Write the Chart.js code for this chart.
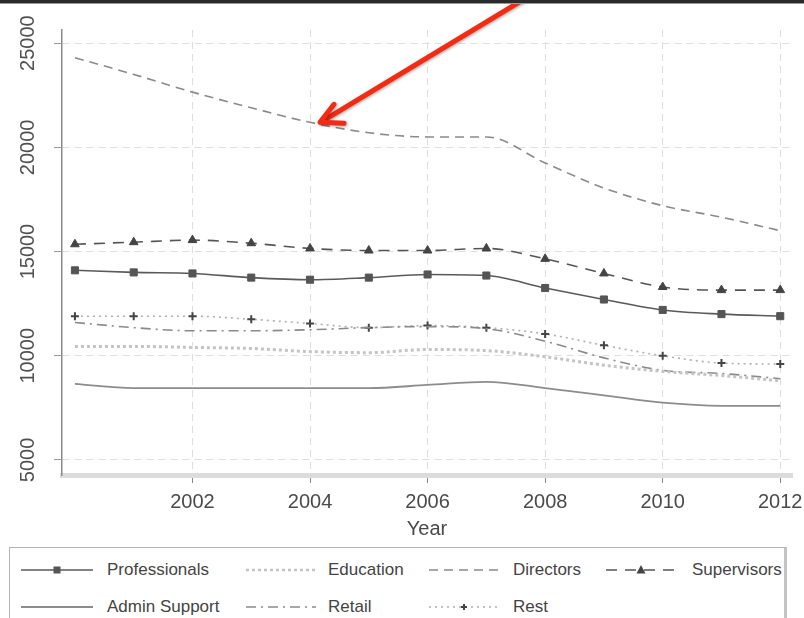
<!DOCTYPE html>
<html>
<head>
<meta charset="utf-8">
<script src="https://cdn.jsdelivr.net/npm/chart.js@4"></script>
<style>
  body { margin: 0; background: #fff; width: 804px; height: 618px; overflow: hidden; position: relative; }
  #topbar { position: absolute; left: 0; top: 0; width: 804px; height: 3px; background: #2a2a2a; border-bottom: 1px solid #9a9a9a; z-index: 3; }
  #wrap { position: absolute; left: 0; top: 0; width: 804px; height: 540px; }
  #legend { position: absolute; left: 9px; top: 547px; width: 778px; height: 72px; border: 1.5px solid #b4b4b4; border-right: 3px solid #c4c4c4; box-sizing: border-box; }
  .item { position: absolute; height: 20px; }
  .item svg { position: absolute; left: 0; top: 0; }
  .item span { position: absolute; top: 0px; font-family: "Liberation Sans", Arial, sans-serif; font-size: 17px; color: #444; white-space: nowrap; }
</style>
</head>
<body>
<div id="topbar"></div>
<div id="wrap"><canvas id="mychart"></canvas></div>
<div id="legend"></div>
<script>
// Dữ liệu
const years = [2000, 2001, 2002, 2003, 2004, 2005, 2006, 2007, 2008, 2009, 2010, 2011, 2012];
const xTicks = [2002, 2004, 2006, 2008, 2010, 2012];
const yTicks = [5000, 10000, 15000, 20000, 25000];

const professionals = [14100, 14000, 13950, 13750, 13650, 13750, 13900, 13850, 13250, 12700, 12200, 12000, 11900];
const education = [10450, 10450, 10400, 10350, 10200, 10150, 10300, 10250, 9950, 9550, 9250, 9050, 8800];
const directors = [24300, 23500, 22650, 21900, 21200, 20700, 20500, 20500, 19250, 18050, 17200, 16650, 16000];
const supervisors = [15350, 15450, 15550, 15400, 15150, 15050, 15050, 15150, 14650, 13950, 13300, 13150, 13150];
const adminSupport = [8650, 8450, 8450, 8450, 8450, 8450, 8600, 8750, 8450, 8100, 7750, 7600, 7600];
const retail = [11600, 11350, 11200, 11200, 11250, 11350, 11400, 11300, 10700, 9900, 9300, 9150, 8900];
const rest = [11900, 11900, 11900, 11750, 11550, 11350, 11450, 11350, 11050, 10500, 10000, 9650, 9600];

const FONT = "'Liberation Sans', Arial, sans-serif";

function pts(arr) {
  return arr.map((v, i) => ({ x: years[i], y: v }));
}

const series = [
  { label: "Professionals", data: professionals, color: "#5a5a5a", dash: [], width: 1.6, point: "rect", radius: 5, pcolor: "#555" },
  { label: "Education", data: education, color: "#c4c4c4", dash: [3, 3], width: 3, point: false },
  { label: "Directors", data: directors, color: "#8a8a8a", dash: [9, 6], width: 1.6, point: false },
  { label: "Supervisors", data: supervisors, color: "#555", dash: [11, 8], width: 1.6, point: "triangle", radius: 5, pcolor: "#444" },
  { label: "Admin Support", data: adminSupport, color: "#8c8c8c", dash: [], width: 1.8, point: false },
  { label: "Retail", data: retail, color: "#8a8a8a", dash: [10, 5, 2, 5], width: 1.6, point: false },
  { label: "Rest", data: rest, color: "#b0b0b0", dash: [2, 4], width: 1.6, point: "cross", radius: 4, pcolor: "#444" },
];

// Nhãn trục Y xoay 90 độ
const yLabelPlugin = {
  id: "yLabels",
  afterDraw(chart) {
    const c = chart.ctx;
    const ys = chart.scales.y;
    c.save();
    c.fillStyle = "#505050";
    c.font = "20px " + FONT;
    c.textAlign = "center";
    c.textBaseline = "middle";
    yTicks.forEach((t) => {
      const py = ys.getPixelForValue(t);
      c.save();
      c.translate(27, py);
      c.rotate(-Math.PI / 2);
      c.fillText(String(t), 0, 1);
      c.restore();
    });
    c.restore();
  },
};

// Mũi tên đỏ chỉ vào Directors năm 2004
const arrowPlugin = {
  id: "arrow",
  afterDraw(chart) {
    const c = chart.ctx;
    const tx = chart.scales.x.getPixelForValue(2004) + 10;
    const ty = chart.scales.y.getPixelForValue(directors[4]);
    c.save();
    c.strokeStyle = "#f42a12";
    c.lineWidth = 5;
    c.lineCap = "round";
    c.lineJoin = "round";
    c.shadowColor = "rgba(0,0,0,0.35)";
    c.shadowBlur = 3;
    c.shadowOffsetX = 1;
    c.shadowOffsetY = 1;
    c.beginPath();
    c.moveTo(tx + 212, ty - 128);
    c.lineTo(tx + 2, ty - 1);
    c.stroke();
    c.beginPath();
    c.moveTo(tx + 14, ty - 18);
    c.lineTo(tx, ty);
    c.lineTo(tx + 24, ty + 1);
    c.stroke();
    c.restore();
  },
};

const ctx = document.getElementById("mychart").getContext("2d");
const mychart = new Chart(ctx, {
  type: "line",
  data: {
    datasets: series.map((s) => ({
      label: s.label,
      data: pts(s.data),
      borderColor: s.color,
      borderDash: s.dash,
      borderWidth: s.width,
      cubicInterpolationMode: "monotone",
      pointStyle: s.point || "circle",
      pointRadius: s.point ? s.radius : 0,
      pointBackgroundColor: s.pcolor || s.color,
      pointBorderColor: s.pcolor || s.color,
      pointBorderWidth: s.point === "cross" ? 2 : 1,
    })),
  },
  options: {
    responsive: true,
    maintainAspectRatio: false,
    animation: false,
    layout: { padding: { left: 0, right: 12, top: 30, bottom: 0 } },
    plugins: { legend: { display: false }, tooltip: { enabled: false } },
    scales: {
      x: {
        type: "linear",
        min: 1999.78,
        max: 2012.2,
        afterBuildTicks: (s) => { s.ticks = xTicks.map((v) => ({ value: v })); },
        afterFit: (s) => { s.height = 65; s.paddingLeft = 0; s.paddingRight = 0; },
        ticks: { color: "#4a4a4a", font: { family: FONT, size: 20 }, padding: 7, callback: (v) => String(v) },
        grid: { color: "#dedede", tickColor: "#888", tickLength: 8, tickBorderDash: [], lineWidth: 1 },
        border: { color: "#dcdcdc", width: 5, dash: [7, 5] },
        title: { display: true, text: "Year", color: "#4a4a4a", font: { family: FONT, size: 20 }, padding: { top: 0, bottom: -1 } },
      },
      y: {
        min: 4280,
        max: 25630,
        afterBuildTicks: (s) => { s.ticks = yTicks.map((v) => ({ value: v })); },
        afterFit: (s) => { s.width = 62; s.paddingTop = 0; s.paddingBottom = 0; },
        ticks: { display: false },
        grid: { color: "#dedede", tickColor: "#999", tickLength: 8, tickBorderDash: [], lineWidth: 1 },
        border: { color: "#8a8a8a", width: 1.5, dash: [7, 5] },
      },
    },
  },
  plugins: [yLabelPlugin, arrowPlugin],
});

// Chú giải HTML: [x mẫu, y, x chữ, độ rộng mẫu]
const legendPos = [
  [10, 12, 97, 74], [235, 12, 318, 72], [418, 12, 503, 72], [595, 12, 682, 72],
  [10, 49, 97, 74], [235, 49, 318, 72], [418, 49, 503, 72],
];
const legend = document.getElementById("legend");
series.forEach((s, k) => {
  const [lx, ly, tx, sw] = legendPos[k];
  const div = document.createElement("div");
  div.className = "item";
  div.style.left = lx + "px";
  div.style.top = ly + "px";
  let marker = "";
  const mx = sw / 2;
  if (s.point === "rect") marker = `<rect x="${mx - 3.5}" y="6.5" width="7" height="7" fill="${s.pcolor}"/>`;
  if (s.point === "triangle") marker = `<polygon points="${mx},5 ${mx - 4.5},13.5 ${mx + 4.5},13.5" fill="${s.pcolor}"/>`;
  if (s.point === "cross") marker = `<path d="M${mx - 3} 10 H${mx + 3} M${mx} 7 V13" stroke="${s.pcolor}" stroke-width="2"/>`;
  div.innerHTML =
    `<svg width="${sw}" height="20"><line x1="1" y1="10" x2="${sw - 1}" y2="10" stroke="${s.color}" stroke-width="${Math.min(s.width, 2.5)}" stroke-dasharray="${s.dash.join(" ")}"/>${marker}</svg>` +
    `<span style="left:${tx - lx}px">${s.label}</span>`;
  legend.appendChild(div);
});
</script>
</body>
</html>
